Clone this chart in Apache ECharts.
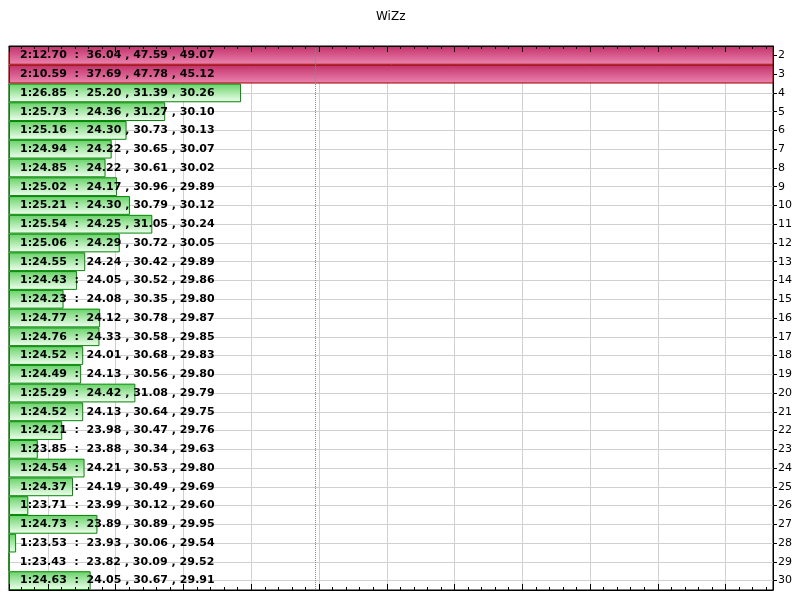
<!DOCTYPE html>
<html><head><meta charset="utf-8">
<script src="https://cdn.jsdelivr.net/npm/echarts@6/dist/echarts.min.js"></script>
<style>html,body{margin:0;padding:0;background:#fff}#c{width:800px;height:601px}</style>
</head><body><div id="c"></div>
<script>
const chartTitle = 'WiZz';
const laps = ['2','3','4','5','6','7','8','9','10','11','12','13','14','15','16','17','18','19','20','21','22','23','24','25','26','27','28','29','30'];
const lapTimes = [132.70,130.59,86.85,85.73,85.16,84.94,84.85,85.02,85.21,85.54,85.06,84.55,84.43,84.23,84.77,84.76,84.52,84.49,85.29,84.52,84.21,83.85,84.54,84.37,83.71,84.73,83.53,83.43,84.63];
const sector1 = [36.04,37.69,25.20,24.36,24.30,24.22,24.22,24.17,24.30,24.25,24.29,24.24,24.05,24.08,24.12,24.33,24.01,24.13,24.42,24.13,23.98,23.88,24.21,24.19,23.99,23.89,23.93,23.82,24.05];
const sector2 = [47.59,47.78,31.39,31.27,30.73,30.65,30.61,30.96,30.79,31.05,30.72,30.42,30.52,30.35,30.78,30.58,30.68,30.56,31.08,30.64,30.47,30.34,30.53,30.49,30.12,30.89,30.06,30.09,30.67];
const sector3 = [49.07,45.12,30.26,30.10,30.13,30.07,30.02,29.89,30.12,30.24,30.05,29.89,29.86,29.80,29.87,29.85,29.83,29.80,29.79,29.75,29.76,29.63,29.80,29.69,29.60,29.95,29.54,29.52,29.91];
const xMin = 83.425;
const xMax = 94.70;

function fmtTime(t) {
  const m = Math.floor(t / 60);
  let s = (t - m * 60).toFixed(2);
  if (s.length < 5) s = '0' + s;
  return m + ':' + s;
}
function labelText(p) {
  const i = p.dataIndex;
  return fmtTime(lapTimes[i]) + '  :  ' + sector1[i].toFixed(2) + ' , ' + sector2[i].toFixed(2) + ' , ' + sector3[i].toFixed(2);
}
const meanLap = lapTimes.reduce((a, b) => a + b, 0) / lapTimes.length;
const overData = lapTimes.map(v => v > xMax ? v : '-');
const normalData = lapTimes.map(v => v > xMax ? '-' : v);

const FONT = 'DejaVu Sans';
const labelCfg = {
  show: true, position: 'insideLeft', distance: 11, formatter: labelText,
  fontFamily: FONT, fontWeight: 'bold', fontSize: 11, color: '#000'
};
const grad = (a, b) => new echarts.graphic.LinearGradient(0, 0, 0, 1, [{offset: 0, color: a}, {offset: 1, color: b}]);

const tickAxis = (pos) => ({
  type: 'value', position: pos, min: xMin, max: xMax, splitNumber: 11, z: 5,
  axisLine: {show: true, lineStyle: {color: '#000', width: 1}},
  axisTick: {show: true, inside: true, length: 6, lineStyle: {color: '#000'}},
  minorTick: {show: true, splitNumber: 5, length: 3, lineStyle: {color: '#000'}},
  axisLabel: {show: false}, splitLine: {show: false}
});

const chart = echarts.init(document.getElementById('c'), null, {renderer: 'canvas'});
chart.setOption({
  animation: false,
  backgroundColor: '#fff',
  title: {text: chartTitle, left: 376, top: 11, padding: 0,
    textStyle: {fontFamily: FONT, fontSize: 12, fontWeight: 'normal', color: '#000'}},
  grid: {left: 9, right: 27, top: 46, bottom: 11, show: true, borderColor: '#000', borderWidth: 1, backgroundColor: 'transparent'},
  xAxis: [
    {type: 'value', position: 'bottom', min: xMin, max: xMax, startValue: xMin, splitNumber: 11, z: 0,
     axisLine: {show: false}, axisTick: {show: false}, axisLabel: {show: false},
     splitLine: {show: true, lineStyle: {color: '#d0d0d0', width: 1}}},
    tickAxis('top'),
    tickAxis('bottom')
  ],
  yAxis: [
    {type: 'category', data: laps, inverse: true, position: 'right',
     axisLine: {show: true, lineStyle: {color: '#000'}},
     axisTick: {show: true, inside: false, length: 4, alignWithLabel: true, lineStyle: {color: '#000'}},
     axisLabel: {fontFamily: FONT, fontSize: 11, color: '#000', margin: 5},
     splitLine: {show: false}},
    {type: 'value', inverse: true, position: 'left', min: 1.5, max: laps.length + 1.5, splitNumber: laps.length, z: 0,
     axisLine: {show: false}, axisTick: {show: false}, axisLabel: {show: false},
     splitLine: {show: true, lineStyle: {color: '#d0d0d0', width: 1}}}
  ],
  series: [
    {type: 'bar', name: 'normal', data: normalData, xAxisIndex: 0, yAxisIndex: 0, barWidth: '100%', barGap: '-100%',
     itemStyle: {color: grad('#66d266', '#f2fff2'), borderColor: '#008800', borderWidth: 1},
     label: labelCfg,
     markLine: {silent: true, symbol: 'none', label: {show: false},
       lineStyle: {type: 'dotted', color: '#888', width: 1},
       data: [{xAxis: meanLap}]}},
    {type: 'bar', name: 'over', data: overData, xAxisIndex: 0, yAxisIndex: 0, barWidth: '100%', barGap: '-100%',
     itemStyle: {color: grad('#c2306a', '#ec86b0'), borderColor: '#a00000', borderWidth: 1},
     label: labelCfg}
  ]
});
</script></body></html>
